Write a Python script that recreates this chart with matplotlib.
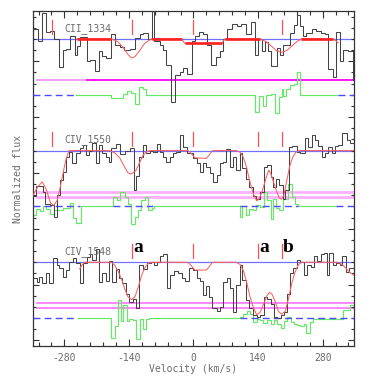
import matplotlib
matplotlib.use("Agg")
import matplotlib.pyplot as plt
import numpy as np
from matplotlib.ticker import MultipleLocator, FixedLocator, NullFormatter

plt.rcParams['axes.unicode_minus'] = False

# ---------------- data ----------------
# CII 1334 : observed flux (step starts in km/s, normalized flux)
cii_v = [-348,-337,-328,-319,-312,-302,-292,-283,-276,-267,-258,-253,-247,-231,-225,-214,-205,-198,-189,-178,
         -171,-160,-151,-138,-127,-116,-109,-98,-91,-86,-73,-66,-59,-48,-41,-30,-22,-15,-4,3,
         12,21,30,37,48,57,63,73,84,95,104,114,124,133,140,148,155,162,169,180,
         187,195,209,218,225,231,238,244,256,266,276,285,292,302,309,318,325,336,345]
cii_f = [1.18,0.96,1.46,1.12,1.14,1.0,0.5,0.81,0.82,1.05,0.72,0.87,1.04,0.6,0.62,0.43,0.78,0.69,0.66,1.08,
         0.9,0.85,0.81,0.82,1.02,1.08,1.1,0.99,1.6,0.96,0.9,0.81,0.54,-0.13,0.35,0.4,0.48,0.38,0.96,1.06,
         1.13,1.08,0.9,0.54,0.68,0.78,0.99,1.18,1.27,1.23,1.27,1.08,1.3,0.72,0.99,0.78,0.94,0.78,0.51,0.84,
         0.72,0.9,1.1,1.25,1.42,1.23,1.05,1.1,1.17,1.14,1.1,1.08,0.46,0.32,1.12,0.6,0.8,0.78,0.27]
cii_mv = [-253,-178,-164,-153,-142,-135,-127,-116,-106,-91,-26,-19,61,68,144,158,169,180,191,202,213,224,234,303,314]
cii_mf = [1.0,1.0,0.95,0.85,0.72,0.66,0.68,0.8,0.92,1.0,1.0,0.92,0.92,1.0,1.0,0.95,0.87,0.79,0.76,0.79,0.87,0.95,1.0,1.0,0.93]
cii_fit = [(-253,-178),(-91,-26),(-19,61),(68,144),(234,303)]
cii_comp = [-307,-134,0,191]
cii_rv = [-258,-178,-171,-153,-145,-136,-127,-118,-109,-102,133,142,151,158,167,177,186,191,195,200,209,218,224,232]
cii_rf = [0,-0.05,-0.06,0.02,0.07,0.04,-0.17,0.14,0.1,0,-0.3,-0.02,-0.21,0.0,0.01,-0.33,-0.04,0.1,-0.03,0.11,0.18,0.2,0.4,0]
cii_rend = 314
cii_err = [0.27]

# CIV 1550
c50_v = [-348,-341,-326,-321,-312,-303,-296,-290,-284,-277,-270,-263,-255,-247,-239,-234,-226,-219,-212,-205,
         -198,-190,-184,-178,-169,-160,-149,-138,-130,-125,-118,-109,-102,-95,-88,-80,-73,-66,-59,-51,
         -44,-37,-30,-22,-15,-8,-1,7,14,21,28,35,43,50,57,64,70,79,86,93,
         101,106,114,121,128,135,144,153,160,167,173,179,186,193,199,206,213,224,232,242,
         249,256,263,271,278,285,292,300,307,314,321,332,339]
c50_f = [0.19,0.37,0.25,0.05,0.02,-0.19,0.2,0.47,0.62,0.89,0.98,0.77,0.95,1.04,1.1,0.92,1.0,1.13,0.77,1.1,
         0.95,0.89,0.8,1.04,1.12,0.94,1.0,1.04,0.29,0.54,0.89,1.1,0.95,1.0,0.98,1.12,0.98,0.89,0.8,0.88,
         0.96,0.97,1.28,1.07,0.96,0.95,0.86,0.77,0.62,0.77,0.71,0.59,0.44,0.56,0.78,0.8,1.02,0.71,0.89,0.65,
         0.95,0.68,0.5,0.35,0.19,0.13,0.26,0.71,0.74,0.53,0.35,0.5,0.38,0.14,0.29,1.07,1.08,0.98,0.95,1.22,
         1.07,1.28,1.19,1.08,0.88,0.95,1.07,0.95,1.08,1.1,1.32,1.19,1.13]
c50_mv = [-348,-337,-328,-319,-310,-303,-296,-290,-284,-277,-270,-182,-171,-160,-149,-142,-135,-125,-116,-109,
          -102,-95,-12,-4,3,28,35,41,93,101,108,115,122,130,137,143,150,157,163,167,
          173,179,186,191,196,202,208,215,222,229,348]
c50_mf = [0.2,0.36,0.44,0.3,0.06,0.02,0.1,0.3,0.55,0.83,1.0,1.0,0.96,0.87,0.7,0.6,0.58,0.64,0.8,0.92,
          0.98,1.0,1.0,0.94,0.87,0.86,0.93,1.0,1.0,0.97,0.88,0.7,0.45,0.22,0.1,0.15,0.3,0.5,0.65,0.6,
          0.45,0.3,0.15,0.13,0.2,0.45,0.7,0.88,0.97,1.0,1.0]
c50_comp = [-307,-134,0,140,191]
c50_rv = [-348,-341,-333,-326,-319,-312,-303,-296,-283,-268,-261,-254,-245,-174,-166,-160,-149,-142,-135,-127,
          -120,-113,-106,-98,-91,-86,101,106,114,121,128,135,144,153,160,167,173,179,186,193,
          199,205,213,220,227]
c50_rf = [-0.15,-0.05,-0.08,0.0,-0.05,-0.13,-0.07,-0.06,-0.02,0.07,-0.2,-0.29,0,0.16,0.11,0.25,0.16,0.04,-0.31,-0.19,
          -0.07,0.11,0.17,-0.07,-0.02,0,-0.19,0.01,-0.16,-0.05,-0.07,0.02,-0.01,0.26,0.11,-0.23,0.14,-0.02,-0.07,0.14,
          0.13,0.41,0.16,0.05,0]
c50_rend = 310
c50_err = [0.17, 0.26]

# CIV 1548
c48_v = [-348,-339,-334,-328,-319,-313,-305,-297,-292,-284,-277,-270,-261,-254,-247,-240,-232,-225,-219,-212,
         -205,-198,-190,-183,-176,-169,-161,-154,-147,-140,-132,-125,-118,-109,-101,-93,-86,-79,-72,-66,
         -57,-51,-43,-33,-26,-19,-9,-1,7,14,21,28,34,41,50,57,64,72,79,86,
         93,101,106,114,121,130,137,145,153,160,167,174,182,189,196,203,209,216,224,232,
         239,247,254,261,268,276,283,289,294,302,309,318,323,331,338]
c48_f = [0.72,0.64,0.73,0.62,0.8,0.62,1.08,0.95,0.89,0.74,0.86,1.0,1.08,0.98,0.62,0.98,1.1,1.15,1.04,1.24,
         0.64,0.8,0.66,1.02,0.65,0.88,0.71,0.62,0.44,0.29,0.35,0.18,0.95,0.88,0.98,1.0,0.95,1.0,1.11,1.15,
         0.54,0.77,0.84,0.8,0.72,0.66,0.9,0.86,0.71,0.66,0.41,0.58,0.38,0.18,0.13,0.2,0.65,0.71,0.53,0.11,
         0.59,0.95,0.68,0.32,0.18,0.05,0.02,0.05,0.38,0.35,0.26,0.02,0.0,0.05,0.11,0.44,0.8,0.89,1.04,1.01,
         0.77,0.95,0.92,1.11,1.02,1.14,1.17,0.77,1.17,0.95,0.98,0.95,1.11,0.83,0.9]
c48_mv = [-247,-241,-236,-178,-171,-164,-156,-149,-142,-134,-127,-120,-113,-106,-98,-91,-12,-4,3,28,
          35,41,93,101,108,115,122,130,137,144,152,159,165,170,177,184,191,199,206,213,
          220,227,234,310,318,325,332,339,347]
c48_mf = [0.88,0.96,1.0,1.0,0.95,0.85,0.7,0.52,0.38,0.33,0.38,0.55,0.75,0.9,0.98,1.0,1.0,0.93,0.86,0.86,
          0.93,1.0,1.0,0.96,0.85,0.65,0.4,0.18,0.06,0.1,0.25,0.4,0.46,0.43,0.3,0.12,0.07,0.12,0.35,0.62,
          0.82,0.95,1.0,1.0,0.98,0.94,0.88,0.82,0.77]
c48_comp = [-134,0,140,191]
c48_tags = {-134: 'a', 140: 'a', 191: 'b'}
c48_rv = [-253,-178,-171,-164,-158,-153,-145,-140,-132,-125,-116,-109,-102,-96,101,108,115,122,130,137,
          144,151,160,167,174,182,189,196,203,211,218,225,232,239,245,252,260,325,339]
c48_rf = [0,-0.36,-0.15,0.33,-0.05,0.24,-0.05,-0.02,-0.04,-0.375,-0.02,-0.2,-0.02,0,0.02,0.07,0.125,0.08,-0.07,-0.02,
          -0.04,-0.08,-0.04,-0.11,-0.04,-0.1,-0.18,-0.05,0.02,-0.07,-0.11,-0.125,-0.15,-0.11,-0.27,-0.07,-0.02,0.14,0.23]
c48_rend = 348
c48_err = [0.18, 0.27]

xticks_major = [-280, -140, 0, 140, 280]

# ---------------- figure ----------------
VMIN, VMAX = -348, 348
fig = plt.figure(figsize=(3.82, 3.82), dpi=100)
ax = fig.add_axes([33/382, 36/382, 321/382, 335/382])
ax.set_xlim(VMIN, VMAX)
ax.set_ylim(0, 6)

mono = 'DejaVu Sans Mono'
grey = '#6a6a6a'

panels = [
    dict(name='CII_1334', off=4.5, v=cii_v, f=cii_f, mv=cii_mv, mf=cii_mf, comp=cii_comp,
         rv=cii_rv, rf=cii_rf, rend=cii_rend, err=cii_err,
         dashed=[(VMIN, -258), (314, VMAX)]),
    dict(name='CIV_1550', off=2.5, v=c50_v, f=c50_f, mv=c50_mv, mf=c50_mf, comp=c50_comp,
         rv=c50_rv, rf=c50_rf, rend=c50_rend, err=c50_err,
         dashed=[(VMIN, -247), (-174, -88), (101, 227), (310, VMAX)]),
    dict(name='CIV_1548', off=0.5, v=c48_v, f=c48_f, mv=c48_mv, mf=c48_mf, comp=c48_comp,
         rv=c48_rv, rf=c48_rf, rend=c48_rend, err=c48_err,
         dashed=[(VMIN, -253), (101, VMAX)]),
]

for i, p in enumerate(panels):
    off = p['off']
    # continuum
    ax.plot([VMIN, VMAX], [off + 1, off + 1], color='#7070ff', lw=0.9, zorder=1)
    # error levels
    if i == 0:
        ax.plot([-340, -231], [off + p['err'][0]] * 2, color='#f08af0', lw=1.2, zorder=1)
        ax.plot([-231, VMAX], [off + p['err'][0]] * 2, color='#ff00ff', lw=1.3, zorder=1)
    elif i == 1:
        for e in p['err']:
            ax.plot([-340, VMAX], [off + e] * 2, color='#ffb0ff', lw=2.0, zorder=1)
    else:
        for e in p['err']:
            ax.plot([-340, VMAX], [off + e] * 2, color='#ff66ff', lw=1.1, zorder=1)
    # residuals
    r_edges = list(p['rv']) + [p['rend']]
    ax.stairs(np.array(p['rf']) + off, r_edges, baseline=None, color='#66e866', lw=0.85, zorder=2)
    # zero level dashed
    for a, b in p['dashed']:
        ax.plot([a, b], [off, off], color='#4a4aff', lw=1.0, dashes=(5, 3), zorder=3)
    # data
    edges = list(p['v']) + [VMAX]
    ax.stairs(np.array(p['f']) + off, edges, baseline=None, color='#444444', lw=0.75, zorder=4)
    # model
    ax.plot(p['mv'], np.array(p['mf']) + off, color='#ff6060', lw=0.75, zorder=5)
    if i == 0:
        mv = np.array(p['mv']); mf = np.array(p['mf'])
        for a, b in cii_fit:
            m = (mv >= a) & (mv <= b)
            ax.plot(mv[m], mf[m] + off, color='#ff2020', lw=1.9, zorder=5, solid_capstyle='butt')
    # component markers
    for c in p['comp']:
        ax.plot([c, c], [off + 1.08, off + 1.33], color='#ff5050', lw=0.9, zorder=6)
    # label
    ax.text(-279, off + 1.19, p['name'], family=mono, fontsize=7, color=grey,
            ha='left', va='center', zorder=7)

for c, t in c48_tags.items():
    ax.text(c + 3, 0.5 + 1.19, t, family='Liberation Serif', fontsize=14, fontweight='bold',
            color='black', ha='left', va='baseline', zorder=7)

# axes styling
ax.xaxis.set_major_locator(FixedLocator(xticks_major))
ax.xaxis.set_minor_locator(MultipleLocator(28))
ax.yaxis.set_major_locator(FixedLocator(np.arange(0.1, 6.0, 1.0)))
ax.yaxis.set_minor_locator(FixedLocator(np.arange(0.1, 6.0, 0.2)))
ax.yaxis.set_major_formatter(NullFormatter())
ax.tick_params(which='both', direction='in', top=True, right=True, color='#333333', width=0.8)
ax.tick_params(axis='x', which='major', length=5, pad=5, labelsize=7, labelcolor=grey)
ax.tick_params(axis='x', which='minor', length=3)
ax.tick_params(axis='y', which='major', length=4)
ax.tick_params(axis='y', which='minor', length=2.5)
for lab in ax.get_xticklabels():
    lab.set_family(mono)
for s in ax.spines.values():
    s.set_color('#333333')
    s.set_linewidth(0.9)

ax.set_xlabel('Velocity (km/s)', family=mono, fontsize=7, color=grey, labelpad=1)
ax.set_ylabel('Normalized flux', family=mono, fontsize=7, color=grey, labelpad=4)

fig.savefig('out.png', dpi=100)
